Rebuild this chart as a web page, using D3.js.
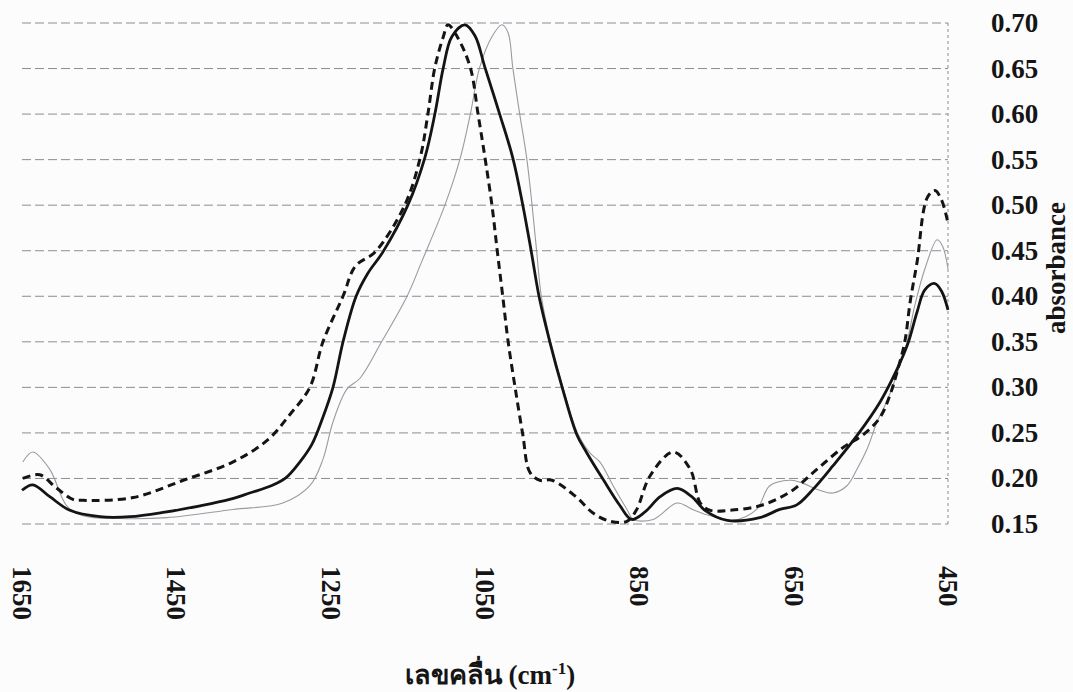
<!DOCTYPE html>
<html>
<head>
<meta charset="utf-8">
<script src="https://cdnjs.cloudflare.com/ajax/libs/d3/7.8.5/d3.min.js"></script>
<style>
  body { margin: 0; background: #fcfcfd; }
  svg { display: block; }
  text { font-family: 'Liberation Serif', 'Times New Roman', serif; font-weight: bold; fill: #151515; }
</style>
</head>
<body>
<div id="chart"></div>
<script>
'use strict';

// wavenumber (cm-1) / absorbance
var solidWn = [1650,1636,1614,1588,1549,1510,1465,1419,1381,1355,1327,1309,1290,1274,1261,1247,1234,1217,1202,1182,1150,1128,1115,1104,1093,1076,1063,1050,1031,1014,1001,990,980,966,950,931,918,897,875,860,843,823,801,782,765,736,694,668,646,625,599,568,538,516,502,490,480,467,458,450];
var solidAbs = [0.187,0.193,0.180,0.165,0.158,0.158,0.163,0.170,0.177,0.184,0.192,0.200,0.218,0.238,0.265,0.300,0.350,0.400,0.425,0.449,0.500,0.552,0.600,0.651,0.685,0.698,0.686,0.651,0.600,0.552,0.500,0.449,0.400,0.350,0.300,0.248,0.228,0.199,0.170,0.155,0.163,0.180,0.189,0.180,0.165,0.154,0.157,0.166,0.171,0.188,0.214,0.247,0.284,0.320,0.348,0.383,0.407,0.414,0.405,0.385];

var dashWn = [1649,1627,1606,1584,1571,1506,1441,1377,1332,1303,1277,1260,1234,1218,1192,1154,1134,1124,1115,1104,1098,1086,1069,1059,1050,1041,1034,1027,1020,1011,1001,992,979,963,931,910,888,866,854,836,806,784,771,758,733,694,655,620,586,560,538,525,516,506,499,490,477,467,458,450];
var dashAbs = [0.200,0.204,0.190,0.177,0.176,0.179,0.198,0.218,0.242,0.270,0.300,0.350,0.400,0.433,0.449,0.500,0.552,0.600,0.651,0.685,0.698,0.685,0.651,0.600,0.552,0.500,0.449,0.400,0.350,0.300,0.248,0.207,0.198,0.198,0.179,0.162,0.153,0.153,0.165,0.203,0.229,0.210,0.173,0.165,0.165,0.170,0.185,0.210,0.234,0.248,0.267,0.292,0.317,0.350,0.394,0.438,0.508,0.516,0.505,0.480];

var greyWn = [1649,1636,1614,1592,1571,1523,1462,1377,1312,1277,1260,1247,1229,1212,1184,1151,1132,1102,1082,1069,1057,1041,1028,1020,1014,1005,996,989,983,977,965,949,930,914,901,884,866,858,832,801,781,758,729,698,681,655,642,616,599,581,568,555,542,529,516,503,493,480,464,457,450];
var greyAbs = [0.218,0.229,0.210,0.170,0.159,0.156,0.157,0.166,0.173,0.192,0.221,0.262,0.298,0.310,0.350,0.400,0.438,0.500,0.552,0.600,0.651,0.685,0.698,0.689,0.651,0.600,0.552,0.500,0.449,0.400,0.350,0.300,0.250,0.228,0.218,0.192,0.166,0.155,0.155,0.173,0.166,0.159,0.154,0.166,0.192,0.198,0.196,0.187,0.184,0.192,0.210,0.232,0.262,0.285,0.315,0.350,0.390,0.430,0.462,0.455,0.430];

var xTicks = [1650, 1450, 1250, 1050, 850, 650, 450];
var yTicks = [0.15, 0.20, 0.25, 0.30, 0.35, 0.40, 0.45, 0.50, 0.55, 0.60, 0.65, 0.70];

var width = 1073, height = 692;

var svg = d3.select('#chart').append('svg')
  .attr('width', width)
  .attr('height', height);

var x = d3.scaleLinear().domain([1650, 450]).range([22, 948]);
var y = d3.scaleLinear().domain([0.15, 0.70]).range([524, 23]);

function zip(wn, abs) {
  return wn.map(function (w, i) { return [w, abs[i]]; });
}

// horizontal gridlines
svg.append('g').selectAll('line')
  .data(yTicks)
  .enter().append('line')
  .attr('x1', x(1650))
  .attr('x2', x(450))
  .attr('y1', function (d) { return y(d); })
  .attr('y2', function (d) { return y(d); })
  .attr('stroke', '#8c8c94')
  .attr('stroke-width', 1)
  .attr('stroke-dasharray', '9,4');

// right edge of the plot
svg.append('line')
  .attr('x1', x(450)).attr('x2', x(450))
  .attr('y1', y(0.70)).attr('y2', y(0.15))
  .attr('stroke', '#8c8c94')
  .attr('stroke-dasharray', '3,3');

var line = d3.line()
  .x(function (d) { return x(d[0]); })
  .y(function (d) { return y(d[1]); })
  .curve(d3.curveCatmullRom.alpha(0.5));

svg.append('path')
  .datum(zip(greyWn, greyAbs))
  .attr('d', line)
  .attr('fill', 'none')
  .attr('stroke', '#9a9aa2')
  .attr('stroke-width', 1.1);

svg.append('path')
  .datum(zip(solidWn, solidAbs))
  .attr('d', line)
  .attr('fill', 'none')
  .attr('stroke', '#141414')
  .attr('stroke-width', 2.8);

svg.append('path')
  .datum(zip(dashWn, dashAbs))
  .attr('d', line)
  .attr('fill', 'none')
  .attr('stroke', '#141414')
  .attr('stroke-width', 3)
  .attr('stroke-dasharray', '8,5');

// y tick labels on the right
svg.append('g').selectAll('text')
  .data(yTicks)
  .enter().append('text')
  .attr('x', 991)
  .attr('y', function (d) { return y(d); })
  .attr('dominant-baseline', 'central')
  .style('font-size', '27px')
  .text(d3.format('.2f'));

// x tick labels, turned on their side
svg.append('g').selectAll('text')
  .data(xTicks)
  .enter().append('text')
  .attr('transform', function (d) { return 'translate(' + x(d) + ',566) rotate(90)'; })
  .attr('dominant-baseline', 'central')
  .style('font-size', '27px')
  .text(function (d) { return d; });

svg.append('text')
  .attr('transform', 'translate(1056,268) rotate(-90)')
  .attr('text-anchor', 'middle')
  .attr('dominant-baseline', 'central')
  .style('font-size', '27px')
  .text('absorbance');

var xl = svg.append('text')
  .attr('x', 490)
  .attr('y', 684)
  .attr('text-anchor', 'middle')
  .style('font-size', '27px');
xl.append('tspan').text('เลขคลื่น (cm');
xl.append('tspan').attr('dy', -10).style('font-size', '17px').text('-1');
xl.append('tspan').attr('dy', 10).text(')');
</script>
</body>
</html>
